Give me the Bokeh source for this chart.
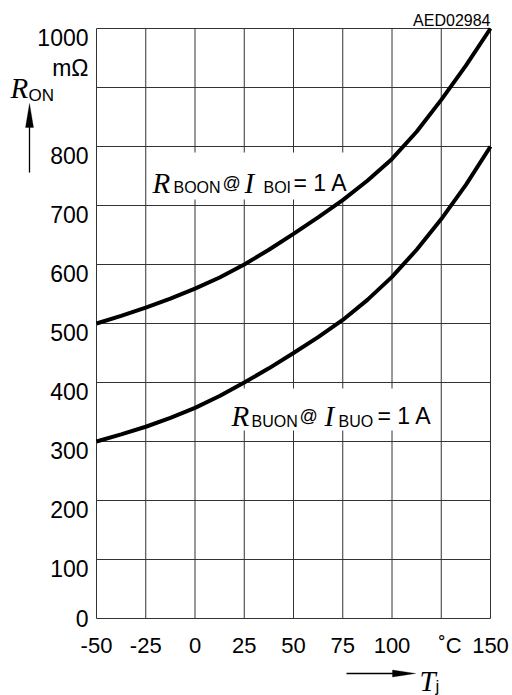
from bokeh.plotting import figure
from bokeh.models import Range1d, Label, Arrow, PolyAnnotation, ColumnDataSource
from bokeh.core.properties import value
from bokeh.embed import file_html
from bokeh.resources import INLINE

# ---- data ----
temps = [-50, -37.5, -25, -12.5, 0, 12.5, 25, 37.5, 50, 62.5, 75, 87.5, 100, 112.5, 125, 137.5, 150]
r_boon = [500, 513, 527, 542, 559, 578, 600, 625, 652, 680, 709, 742, 779, 825, 879, 937, 1000]
r_buon = [300, 312, 325, 340, 357, 377, 400, 424, 450, 477, 506, 540, 579, 625, 677, 735, 800]
x_ticks = [-50, -25, 0, 25, 50, 75, 100, 125, 150]
x_tick_labels = ["-50", "-25", "0", "25", "50", "75", "100", "", "150"]
y_ticks = [0, 100, 200, 300, 400, 500, 600, 700, 800, 900, 1000]
y_tick_labels = ["0", "100", "200", "300", "400", "500", "600", "700", "800", "", "1000"]

X0, X1, Y0, Y1 = -50, 150, 0, 1000

# ---- layout: pixel position of the chart area on the canvas ----
FL, FR, FT, FB = 96, 490, 28, 618
W, H = 512, 695
kx = (FR - FL) / (X1 - X0)
ky = (FB - FT) / (Y1 - Y0)


def dx(px):
    return X0 + (px - FL) / kx


def dy(py):
    return Y0 + (FB - py) / ky


p = figure(width=W, height=H, output_backend="svg", toolbar_location=None, title=None,
           x_axis_type=None, y_axis_type=None,
           x_range=Range1d(dx(0), dx(W)), y_range=Range1d(dy(H), dy(0)),
           min_border=0, min_border_left=0, min_border_right=0,
           min_border_top=0, min_border_bottom=0)
p.background_fill_color = "white"
p.border_fill_color = "white"
p.outline_line_color = None
p.xgrid.visible = False
p.ygrid.visible = False

GRID = "#333333"
# grid lines (also the frame edges)
p.segment(x0=x_ticks, y0=[Y0] * len(x_ticks), x1=x_ticks, y1=[Y1] * len(x_ticks),
          line_color=GRID, line_width=1)
p.segment(x0=[X0] * len(y_ticks), y0=y_ticks, x1=[X1] * len(y_ticks), y1=y_ticks,
          line_color=GRID, line_width=1)

# white boxes behind the curve labels
p.quad(left=[dx(147), dx(228)], right=[dx(350), dx(438)],
       top=[dy(152), dy(388)], bottom=[dy(199), dy(430)],
       fill_color="white", line_color=None)

src = ColumnDataSource(dict(t=temps, a=r_boon, b=r_buon))
p.line("t", "a", source=src, line_color="black", line_width=4)
p.line("t", "b", source=src, line_color="black", line_width=4)

# tick labels (the "0" on the y axis sits on its line, the others are centred)
p.text(x=x_ticks, y=[dy(645)] * len(x_ticks), text=x_tick_labels,
       text_font=value("Liberation Sans"), text_font_size="22px", text_color="black",
       text_align="center", text_baseline="alphabetic")
p.text(x=[dx(88)] * len(y_ticks),
       y=[t if t == Y0 else t - 8.5 / ky for t in y_ticks], text=y_tick_labels,
       text_font=value("Liberation Sans"), text_font_size="23px", text_color="black",
       text_align="right", text_baseline="alphabetic")

SANS = "Liberation Sans"
SERIF = "Liberation Serif"


def txt(px, py, text, size, font=SANS, italic=False, align="left"):
    p.add_layout(Label(x=dx(px), y=dy(py), text=text,
                       text_font=font,
                       text_font_size=f"{size}px",
                       text_font_style="italic" if italic else "normal",
                       text_align=align, text_baseline="alphabetic",
                       text_color="black"))


# curve labels
txt(152, 182, "R", 29, font=SERIF, italic=True)
txt(173, 187, "BOON", 16)
txt(222, 182, "@", 18)
txt(244, 182, "I", 29, font=SERIF, italic=True)
txt(263, 187, "BOI", 16)
txt(293, 182, "= 1 A", 23)

txt(231, 415, "R", 29, font=SERIF, italic=True)
txt(251, 421, "BUON", 16)
txt(299, 415, "@", 18)
txt(324, 415, "I", 29, font=SERIF, italic=True)
txt(338, 421, "BUO", 16)
txt(377, 415, "= 1 A", 23)

# axis titles / units
txt(88, 67, "mΩ", 23, align="right")
txt(10, 87, "R", 29, font=SERIF, italic=True)
txt(28, 95, "ON", 17)
txt(490, 20, "AED02984", 16, align="right")
txt(438, 645, "˚C", 22)
txt(419, 680, "T", 29, font=SERIF, italic=True)
txt(435, 686, "j", 17)

# arrows
p.add_layout(Arrow(end=None, x_start=dx(29), y_start=dy(172), x_end=dx(29), y_end=dy(120),
                   line_color="black", line_width=1.3))
p.add_layout(PolyAnnotation(xs=[dx(25), dx(29), dx(33)], ys=[dy(127), dy(103), dy(127)],
                            fill_color="black", fill_alpha=1, line_color="black", line_width=1))
p.add_layout(Arrow(end=None, x_start=dx(346), y_start=dy(673), x_end=dx(398), y_end=dy(673),
                   line_color="black", line_width=1.3))
p.add_layout(PolyAnnotation(xs=[dx(392), dx(415), dx(392)], ys=[dy(669.5), dy(673), dy(676.5)],
                            fill_color="black", fill_alpha=1, line_color="black", line_width=1))

open("out.html", "w").write(file_html(p, INLINE))
